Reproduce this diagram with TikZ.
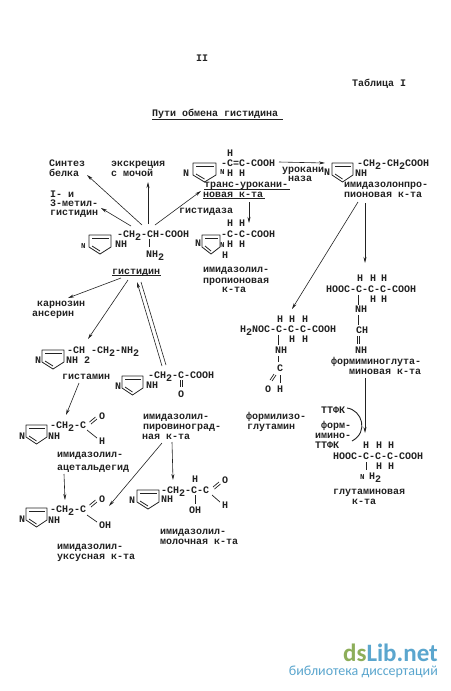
\documentclass[tikz,border=0pt]{standalone}
\usepackage{fontspec}
\usetikzlibrary{arrows.meta}
\newfontfamily\tw{Liberation Mono}[BoldFont=Liberation Mono Bold]
\newfontfamily\wm{Carlito}
\definecolor{wmgreen}{HTML}{8DAE5A}
\definecolor{wmblue}{HTML}{5BA6CE}
\definecolor{ink}{HTML}{222222}
\tikzset{
  txt/.style={font=\tw\bfseries\fontsize{10}{10}\selectfont, text=ink, anchor=base west, inner sep=0pt, yshift=-3.2pt},
  small/.style={txt, font=\tw\bfseries\fontsize{7.5}{8}\selectfont},
  arr/.style={draw=ink, line width=0.6pt, -{Stealth[length=6pt,width=3pt]}},
  bond/.style={draw=ink, line width=0.7pt},
  ringline/.style={draw=ink, line width=0.8pt, line join=round}
}
\newcommand\T[4]{\node[txt] (#1) at (#2,#3) {#4};}
\newcommand\Sm[4]{\node[small] (#1) at (#2,#3) {#4};}
\newcommand\sub{\raisebox{-3pt}{2}}
% ring: top-left x,y, width
\newcommand\Ring[3]{%
  \draw[ringline] (#1,#2) -- ++(#3,0) -- ++(0,12) -- ++(-#3/2,7) -- ++(-#3/2,-7) -- cycle;
  \draw[ringline] (#1+3,#2+3) -- (#1+#3-2,#2+3);
  \draw[ringline] (#1+3,#2+11) -- (#1+#3/2,#2+16);
}
\begin{document}
\begin{tikzpicture}[x=1pt,y=-1pt]
\useasboundingbox (0,0) rectangle (450,691);
\fill[white] (0,0) rectangle (450,691);
% header
\T{pg}{196}{58}{II}
\T{tab}{352}{83}{Таблица I}
\T{title}{152}{113}{Пути обмена гистидина}
\draw[bond] (152,119) -- (283,119);
% top left labels
\T{sb1}{49}{163}{Синтез}
\T{sb2}{49}{173}{белка}
\T{ex1}{111}{163}{экскреция}
\T{ex2}{111}{173}{с мочой}
\T{me1}{50}{194}{I- и}
\T{me2}{50}{203}{3-метил-}
\T{me3}{50}{212}{гистидин}
% histidine
\Ring{89}{235}{22}
\Sm{hN}{81}{245}{N}
\T{hf}{117}{234}{-CH\sub-CH-COOH}
\T{hnh}{115}{244}{NH}
\draw[bond] (149,239) -- (149,247);
\T{hn2}{146}{254}{NH\sub}
\T{hname}{112}{271}{гистидин}
\draw[bond] (112,275) -- (161,275);
\T{ka1}{37}{303}{карнозин}
\T{ka2}{32}{313}{ансерин}
% urocanic
\Ring{193}{163}{23}
\T{uN}{183}{173}{N}
\T{uh}{227}{153}{H}
\T{uf}{221}{163}{-C=C-COOH}
\Sm{uN2}{220}{171}{N}
\T{uh2}{227}{173}{H}
\T{uh3}{239}{173}{H}
\T{un1}{204}{184}{транс-урокани-}
\T{un2}{203}{194}{новая к-та}
\draw[bond] (204,189.5) -- (290,189.5);
\draw[bond] (203,198.5) -- (265,198.5);
\T{gaz}{179}{210}{гистидаза}
\T{ur1}{282}{169}{урокани}
\T{ur2}{288}{178}{наза}
% imidazolylpropionic
\Ring{202}{235}{18}
\T{pN}{195}{243}{N}
\T{ph1}{227}{223}{H}
\T{ph2}{239}{223}{H}
\T{pf}{221}{234}{-C-C-COOH}
\Sm{pN2}{220}{244}{N}
\T{ph3}{227}{244}{H}
\T{ph4}{239}{244}{H}
\T{ph5}{222}{255}{H}
\T{pn1}{203}{269}{имидазолил-}
\T{pn2}{203}{280}{пропионовая}
\T{pn3}{222}{289}{к-та}
% imidazolonepropionic
\Ring{332}{163}{21}
\T{oN}{324}{172}{N}
\T{of}{357}{163}{-CH\sub-CH\sub COOH}
\T{onh}{355}{173}{NH}
\T{on1}{344}{184}{имидазолонпро-}
\T{on2}{344}{194}{пионовая к-та}
% histamine
\Ring{42}{350}{22}
\T{aN}{35}{360}{N}
\T{af}{67}{350}{-CH -CH\sub-NH\sub}
\T{anh}{66}{360}{NH 2}
\T{aname}{62}{376}{гистамин}
% pyruvic
\Ring{122}{376}{21}
\T{yN}{115}{386}{N}
\T{yf}{148}{375}{-CH\sub-C-COOH}
\T{ynh}{146}{385}{NH}
\draw[bond] (180,380) -- (180,387);
\draw[bond] (182,380) -- (182,387);
\T{yo}{178}{394}{O}
\T{yn1}{143}{416}{имидазолил-}
\T{yn2}{143}{426}{пировиноград-}
\T{yn3}{142}{436}{ная к-та}
% acetaldehyde
\Ring{26}{425}{21}
\T{cN}{19}{436}{N}
\T{cf}{50}{425}{-CH\sub-C}
\T{cnh}{48}{436}{NH}
\draw[bond] (89.5,422) -- (95.5,417);
\draw[bond] (91,424) -- (97,419);
\T{co}{99}{416}{O}
\draw[bond] (87,430) -- (97,438);
\T{ch}{99}{441}{H}
\T{cn1}{57}{454}{имидазолил-}
\T{cn2}{57}{467}{ацетальдегид}
% acetic
\Ring{26}{508}{21}
\T{dN}{19}{519}{N}
\T{df}{50}{509}{-CH\sub-C}
\T{dnh}{48}{520}{NH}
\draw[bond] (89.5,505) -- (95.5,500);
\draw[bond] (91,507) -- (97,502);
\T{do}{99}{499}{O}
\draw[bond] (87,515) -- (97,522);
\T{dh}{99}{525}{OH}
\T{dn1}{57}{546}{имидазолил-}
\T{dn2}{57}{556}{уксусная к-та}
% lactic
\Ring{137}{490}{22}
\T{lN}{129}{500}{N}
\T{lh0}{192}{479}{H}
\T{lf}{161}{490}{-CH\sub-C-C}
\T{lnh}{161}{499}{NH}
\draw[bond] (195,495) -- (195,504);
\T{lh}{189}{510}{OH}
\draw[bond] (213,487) -- (219,482);
\draw[bond] (214.5,489) -- (220.5,484);
\T{lo}{222}{480}{O}
\draw[bond] (212,495) -- (220,502);
\T{lh2}{222}{505}{H}
\T{ln1}{160}{531}{имидазолил-}
\T{ln2}{160}{541}{молочная к-та}
% formiminoglutamic
\T{fh1}{357}{278}{H}
\T{fh2}{370}{278}{H}
\T{fh3}{381}{278}{H}
\T{ff}{326}{289}{HOOC-C-C-C-COOH}
\T{fh4}{370}{299}{H}
\T{fh5}{381}{299}{H}
\draw[bond] (358,295) -- (358,305);
\T{fnh}{355}{309}{NH}
\draw[bond] (358,315) -- (358,325);
\T{fch}{356}{330}{CH}
\draw[bond] (357,336) -- (357,344);
\draw[bond] (359,336) -- (359,344);
\T{fnh2}{355}{350}{NH}
\T{fn1}{331}{361}{формиминоглута-}
\T{fn2}{349}{371}{миновая к-та}
% formylisoglutamine
\T{ih1}{277}{319}{H}
\T{ih2}{289}{319}{H}
\T{ih3}{302}{319}{H}
\T{if}{240}{329}{H\sub NOC-C-C-C-COOH}
\T{ih4}{289}{339}{H}
\T{ih5}{302}{339}{H}
\draw[bond] (278,335) -- (278,345);
\T{inh}{275}{350}{NH}
\draw[bond] (278,356) -- (278,362);
\T{ic}{277}{368}{C}
\draw[bond] (274,374) -- (270,380);
\draw[bond] (276,375) -- (272,381);
\draw[bond] (280,375) -- (280,383);
\T{io}{265}{389}{O}
\T{ih}{277}{389}{H}
\T{in1}{246}{416}{формилизо-}
\T{in2}{247}{426}{глутамин}
% cofactor
\T{tt1}{321}{410}{ТТФК}
\T{tt2}{321}{425}{форм-}
\T{tt3}{315}{435}{имино-}
\T{tt4}{315}{445}{ТТФК}
% glutamic
\T{gh1}{363}{445}{H}
\T{gh2}{376}{445}{H}
\T{gh3}{388}{445}{H}
\T{gf}{333}{456}{HOOC-C-C-C-COOH}
\T{gh4}{376}{466}{H}
\T{gh5}{388}{466}{H}
\draw[bond] (366,462) -- (366,470);
\Sm{gn}{360}{476}{N}
\T{gnh}{369}{476}{H\sub}
\T{gn1}{333}{491}{глутаминовая}
\T{gn2}{352}{501}{к-та}
% connector ends
\coordinate (a1) at (142,225); \coordinate (a1e) at (87,175);
\coordinate (a2) at (148,224); \coordinate (a2e) at (148,182);
\coordinate (a3) at (131,226); \coordinate (a3e) at (101,208);
\coordinate (a4) at (155,225); \coordinate (a4e) at (201,191);
\coordinate (a5) at (121,278); \coordinate (a5e) at (68,298);
\coordinate (a6) at (128,280); \coordinate (a6e) at (88,339);
\coordinate (a7) at (162,366); \coordinate (a7e) at (137,282);
\coordinate (a8) at (141,282); \coordinate (a8e) at (166,365);
\coordinate (a9) at (79,383);  \coordinate (a9e) at (66,415);
\coordinate (a10) at (64,474); \coordinate (a10e) at (65,500);
\coordinate (a11) at (162,443);\coordinate (a11e) at (109,506);
\coordinate (a12) at (172,442);\coordinate (a12e) at (173,480);
\coordinate (a13) at (279,162);\coordinate (a13e) at (325,163);
\coordinate (a14) at (249,202);\coordinate (a14e) at (249,223);
\coordinate (a15) at (358,202);\coordinate (a15e) at (292,309);
\coordinate (a16) at (365,203);\coordinate (a16e) at (365,263);
\coordinate (a17) at (365,378);\coordinate (a17e) at (365,433);
\coordinate (c1) at (347,408); \coordinate (c1e) at (352,441);
\draw[arr] (a1) -- (a1e);
\draw[arr] (a2) -- (a2e);
\draw[arr] (a3) -- (a3e);
\draw[arr] (a4) -- (a4e);
\draw[arr] (a5) -- (a5e);
\draw[arr] (a6) -- (a6e);
\draw[arr] (a7) -- (a7e);
\draw[bond,line width=0.6pt] (a8) -- (a8e);
\draw[arr] (a9) -- (a9e);
\draw[arr] (a10) -- (a10e);
\draw[arr] (a11) -- (a11e);
\draw[arr] (a12) -- (a12e);
\draw[arr] (a13) -- (a13e);
\draw[arr] (a14) -- (a14e);
\draw[arr] (a15) -- (a15e);
\draw[arr] (a16) -- (a16e);
\draw[arr] (a17) -- (a17e);
\draw[bond,line width=0.9pt] (c1) .. controls (362,410) and (369,432) .. (c1e);
% watermark
\node[font=\wm\bfseries\fontsize{25}{25}\selectfont, anchor=base east, inner sep=0pt] (wm1) at (438,661) {\textcolor{wmgreen}{ds}\textcolor{wmblue}{Lib.net}};
\node[font=\wm\fontsize{14}{14}\selectfont, text=wmblue, anchor=base east, inner sep=0pt] (wm2) at (438,675) {библиотека диссертаций};
\end{tikzpicture}
\end{document}
